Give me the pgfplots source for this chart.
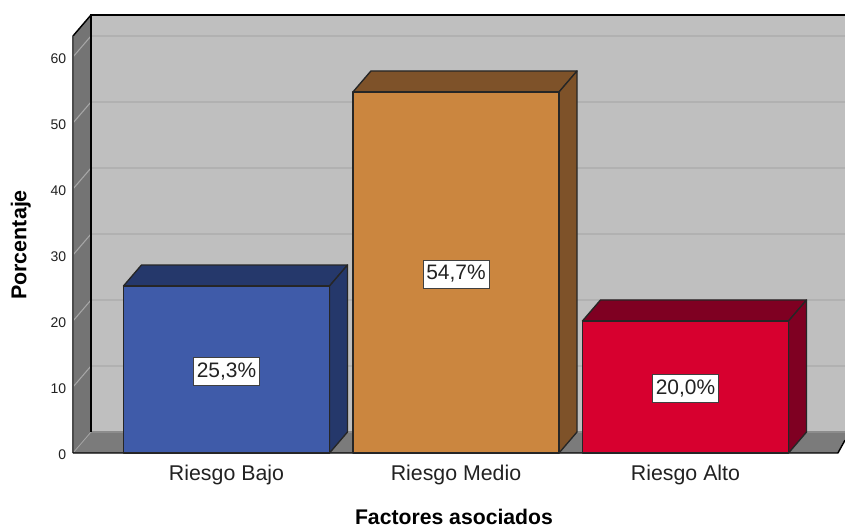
\documentclass[border=0pt]{standalone}
\usepackage{pgfplots}
\usepackage{fontspec}
\setmainfont{Liberation Sans}
\pgfplotsset{compat=1.18}
\definecolor{backwall}{HTML}{BFBFBF}
\definecolor{sidewall}{HTML}{747474}
\definecolor{gridback}{HTML}{B1B1B1}
\definecolor{gridside}{HTML}{A6A6A6}
\definecolor{azul}{HTML}{3F5BA9}
\definecolor{azuld}{HTML}{25386B}
\definecolor{naranja}{HTML}{CB863F}
\definecolor{naranjad}{HTML}{7E5229}
\definecolor{rojo}{HTML}{D7002F}
\definecolor{rojod}{HTML}{7F0022}
\definecolor{txt}{HTML}{222222}
% depth of the oblique projection, in data units
\newcommand{\depthx}{0.0784}
\newcommand{\depthy}{3.18}
\newcommand{\halfw}{0.449}
% one gridline across the side wall and the back wall
\newcommand{\gridrow}[1]{%
  \addplot[draw=gridside,line width=0.8pt] coordinates {(-0.6688,#1) (-0.6688+\depthx,#1+\depthy)};
  \addplot[draw=gridback,line width=1pt] coordinates {(-0.6688+\depthx,#1+\depthy) (2.695,#1+\depthy)};
}
% one bar: centre, value, front colour, shaded colour
\newcommand{\barra}[4]{%
  \addplot[fill=#4,draw=black!85,line width=1pt,line join=round] coordinates {(#1-\halfw,#2) (#1-\halfw+\depthx,#2+\depthy) (#1+\halfw+\depthx,#2+\depthy) (#1+\halfw,#2)} -- cycle;
  \addplot[fill=#4,draw=black!85,line width=1pt,line join=round] coordinates {(#1+\halfw,0) (#1+\halfw+\depthx,\depthy) (#1+\halfw+\depthx,#2+\depthy) (#1+\halfw,#2)} -- cycle;
  \addplot[fill=#3,draw=black!85,line width=1pt,line join=round] coordinates {(#1-\halfw,0) (#1-\halfw,#2) (#1+\halfw,#2) (#1+\halfw,0)} -- cycle;
}
\begin{document}
\begin{tikzpicture}
\path[use as bounding box,fill=white] (0pt,0pt) rectangle (633.75pt,395.25pt);
\begin{axis}[
  at={(54.75pt,55.5pt)},anchor=south west,
  scale only axis,width=579pt,height=328.5pt,
  xmin=-0.6688,xmax=2.695,ymin=0,ymax=66.36,
  clip=false,
  axis line style={draw=none},
  tick style={draw=none},
  xtick={0,1,2},
  xticklabels={Riesgo Bajo,Riesgo Medio,Riesgo Alto},
  ytick={0,10,20,30,40,50,60},
  /pgf/number format/assume math mode=true,
  x tick label style={font=\fontsize{16}{18}\selectfont,text=txt,yshift=-5.8pt,anchor=north},
  y tick label style={font=\fontsize{10.5}{12}\selectfont,text=txt,xshift=-1.6pt,yshift=-1.4pt},
  xlabel={\textbf{Factores asociados}},
  ylabel={\textbf{Porcentaje}},
  every axis x label/.style={at={(axis description cs:0.4935,-0.146)},anchor=center,font=\fontsize{15.9}{18}\selectfont,text=black},
  every axis y label/.style={at={(axis description cs:-0.0675,0.475)},anchor=center,rotate=90,font=\fontsize{16.1}{18}\selectfont,text=black},
]
% walls and floor
\addplot[fill=backwall,draw=none] coordinates {(-0.5904,3.18) (-0.5904,66.36) (2.695,66.36) (2.695,3.18)} -- cycle;
\addplot[fill=sidewall,draw=none] coordinates {(-0.6688,0) (-0.5904,3.18) (-0.5904,66.36) (-0.6688,63.18)} -- cycle;
\addplot[fill=sidewall!95!white,draw=none] coordinates {(-0.6688,0) (-0.5904,3.18) (2.695,3.18) (2.695,1.94) (2.664,0)} -- cycle;
\gridrow{10}\gridrow{20}\gridrow{30}\gridrow{40}\gridrow{50}\gridrow{60}
\addplot[draw=gridside,line width=0.6pt] coordinates {(-0.6688,0) (-0.5904,3.18)};
\addplot[draw=black!45,line width=0.8pt] coordinates {(-0.5904,3.18) (2.695,3.18)};
% frame edges
\addplot[draw=black,line width=1.1pt] coordinates {(-0.5904,3.18) (-0.5904,66.36) (2.695,66.36)};
\addplot[draw=black,line width=1.1pt] coordinates {(-0.5904,66.36) (-0.6688,63.18)};
\addplot[draw=black!70,line width=0.8pt] coordinates {(-0.6688,63.18) (-0.6688,0)};
\addplot[draw=black,line width=1.1pt] coordinates {(-0.6688,0) (2.664,0) (2.695,1.94)};
% bars
\barra{0}{25.3}{azul}{azuld}
\barra{1}{54.7}{naranja}{naranjad}
\barra{2}{20.0}{rojo}{rojod}
% value labels
\tikzset{vlabel/.style={fill=white,draw=black!75,line width=0.7pt,inner xsep=2.5pt,inner ysep=4pt,text=txt,yshift=-1.2pt,font=\fontsize{15.7}{18}\selectfont}}
\node[vlabel] at (axis cs:0,12.65) {25,3\%};
\node[vlabel] at (axis cs:1,27.35) {54,7\%};
\node[vlabel] at (axis cs:2,10) {20,0\%};
\end{axis}
\end{tikzpicture}
\end{document}
